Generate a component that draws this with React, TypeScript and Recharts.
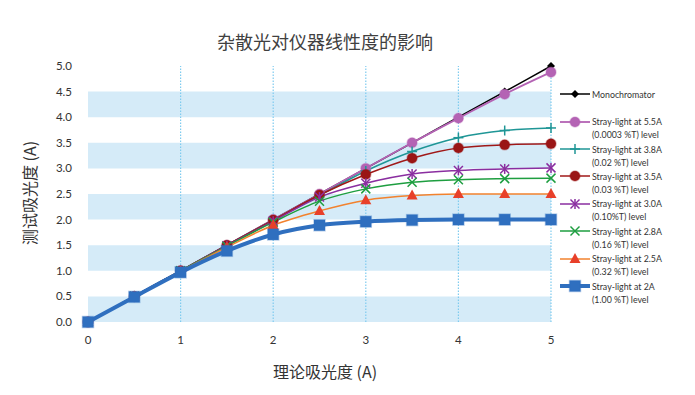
import { LineChart, Line, XAxis, YAxis, ReferenceArea, ReferenceLine } from "recharts";

const xValues = [0, 0.5, 1, 1.5, 2, 2.5, 3, 3.5, 4, 4.5, 5];
const monochromator = [0, 0.5, 1, 1.5, 2, 2.5, 3, 3.5, 4, 4.5, 5];
const stray55 = [0, 0.5, 1, 1.5, 2, 2.5, 3, 3.5, 3.98, 4.45, 4.88];
const stray38 = [0, 0.5, 1, 1.5, 1.99, 2.47, 2.95, 3.33, 3.6, 3.74, 3.79];
const stray35 = [0, 0.5, 1, 1.5, 1.99, 2.48, 2.88, 3.2, 3.4, 3.46, 3.48];
const stray30 = [0, 0.5, 1, 1.49, 1.97, 2.44, 2.71, 2.89, 2.96, 2.99, 3.01];
const stray28 = [0, 0.5, 1, 1.48, 1.95, 2.36, 2.6, 2.73, 2.78, 2.8, 2.81];
const stray25 = [0, 0.5, 0.99, 1.46, 1.89, 2.17, 2.38, 2.47, 2.5, 2.5, 2.5];
const stray20 = [0, 0.49, 0.97, 1.39, 1.71, 1.89, 1.96, 1.99, 2.0, 2.0, 2.0];

const xTicks = [0, 1, 2, 3, 4, 5];
const yTicks = [0, 0.5, 1, 1.5, 2, 2.5, 3, 3.5, 4, 4.5, 5];
const gridX = [1, 2, 3, 4, 5];
const bands = [
  [0, 0.5],
  [1, 1.5],
  [2, 2.5],
  [3, 3.5],
  [4, 4.5],
];

type Shape = "diamond" | "circle" | "plus" | "star" | "cross" | "triangle" | "square";

const series = [
  { key: "mono", values: monochromator, name: "Monochromator", sub: "", color: "#000000", marker: "#000000", shape: "diamond" as Shape, width: 1.5 },
  { key: "s55", values: stray55, name: "Stray-light at 5.5A", sub: "(0.0003 %T) level", color: "#b463b4", marker: "#b463b4", shape: "circle" as Shape, width: 1.8 },
  { key: "s38", values: stray38, name: "Stray-light at 3.8A", sub: "(0.02 %T) level", color: "#1f9696", marker: "#1f9696", shape: "plus" as Shape, width: 1.5 },
  { key: "s35", values: stray35, name: "Stray-light at 3.5A", sub: "(0.03 %T) level", color: "#a01818", marker: "#9a1515", shape: "circle" as Shape, width: 1.5 },
  { key: "s30", values: stray30, name: "Stray-light at 3.0A", sub: "(0.10%T) level", color: "#8a2ea0", marker: "#8a2ea0", shape: "star" as Shape, width: 1.5 },
  { key: "s28", values: stray28, name: "Stray-light at 2.8A", sub: "(0.16 %T) level", color: "#1e9e40", marker: "#1e9e40", shape: "cross" as Shape, width: 1.5 },
  { key: "s25", values: stray25, name: "Stray-light at 2.5A", sub: "(0.32 %T) level", color: "#f2822e", marker: "#e8402a", shape: "triangle" as Shape, width: 1.5 },
  { key: "s20", values: stray20, name: "Stray-light at 2A", sub: "(1.00 %T) level", color: "#2f6fbf", marker: "#2f6fbf", shape: "square" as Shape, width: 4 },
];

const data = xValues.map((x, i) => {
  const row: Record<string, number> = { x };
  series.forEach((s) => {
    row[s.key] = s.values[i];
  });
  return row;
});

function drawShape(shape: Shape, cx: number, cy: number, color: string) {
  switch (shape) {
    case "diamond":
      return <polygon points={`${cx},${cy - 4} ${cx + 4},${cy} ${cx},${cy + 4} ${cx - 4},${cy}`} fill={color} />;
    case "circle":
      return <circle cx={cx} cy={cy} r={5} fill={color} stroke={color} strokeOpacity={0.35} strokeWidth={1.5} />;
    case "plus":
      return (
        <g stroke={color} strokeWidth={1.5}>
          <line x1={cx - 5} y1={cy} x2={cx + 5} y2={cy} />
          <line x1={cx} y1={cy - 5} x2={cx} y2={cy + 5} />
        </g>
      );
    case "star":
      return (
        <g stroke={color} strokeWidth={1.5}>
          <line x1={cx - 4.5} y1={cy - 4.5} x2={cx + 4.5} y2={cy + 4.5} />
          <line x1={cx - 4.5} y1={cy + 4.5} x2={cx + 4.5} y2={cy - 4.5} />
          <line x1={cx} y1={cy - 5} x2={cx} y2={cy + 5} />
        </g>
      );
    case "cross":
      return (
        <g stroke={color} strokeWidth={1.5}>
          <line x1={cx - 4.5} y1={cy - 4.5} x2={cx + 4.5} y2={cy + 4.5} />
          <line x1={cx - 4.5} y1={cy + 4.5} x2={cx + 4.5} y2={cy - 4.5} />
        </g>
      );
    case "triangle":
      return <polygon points={`${cx},${cy - 6} ${cx + 5.5},${cy + 4} ${cx - 5.5},${cy + 4}`} fill={color} />;
    case "square":
      return <rect x={cx - 5.5} y={cy - 5.5} width={11} height={11} fill={color} stroke={color} strokeOpacity={0.35} strokeWidth={1.5} />;
  }
}

function makeDot(shape: Shape, color: string) {
  return (props: any) => {
    const { cx, cy, index } = props;
    if (cx == null || cy == null) return <g key={index} />;
    return <g key={index}>{drawShape(shape, cx, cy, color)}</g>;
  };
}

const font = "Lato, 'Noto Sans', sans-serif";
const cjk = "'Noto Sans CJK SC', sans-serif";

function LegendBox() {
  return (
    <div
      style={{
        position: "absolute",
        left: 560,
        top: 87.5,
        width: 135,
        fontFamily: font,
        fontSize: 8.8,
        color: "#333",
        lineHeight: "13px",
      }}
    >
      {series.map((s, i) => (
        <div key={s.key} style={{ marginBottom: i === 0 ? 14.7 : 1.4, height: s.sub ? 26 : 13 }}>
          <div style={{ display: "flex", alignItems: "center", height: 13 }}>
            <svg width={30} height={14} style={{ marginRight: 2 }}>
              <line x1={0} y1={7} x2={30} y2={7} stroke={s.color} strokeWidth={s.width} />
              {drawShape(s.shape, 15, 7, s.marker)}
            </svg>
            <span>{s.name}</span>
          </div>
          {s.sub ? <div style={{ paddingLeft: 32 }}>{s.sub}</div> : null}
        </div>
      ))}
    </div>
  );
}

export default function App() {
  return (
    <div style={{ position: "absolute", left: 0, top: 0, width: 695, height: 395, background: "#fff" }}>
      <div
        style={{
          position: "absolute",
          left: 0,
          width: 650,
          top: 28,
          textAlign: "center",
          fontFamily: cjk,
          fontSize: 18,
          color: "#404040",
        }}
      >
        杂散光对仪器线性度的影响
      </div>
      <div
        style={{
          position: "absolute",
          left: 29 - 70,
          top: 192 - 11,
          width: 140,
          textAlign: "center",
          transform: "rotate(-90deg)",
          fontFamily: cjk,
          fontSize: 16,
          color: "#333",
        }}
      >
        测试吸光度 (A)
      </div>
      <div
        style={{
          position: "absolute",
          left: 245,
          width: 160,
          top: 359,
          textAlign: "center",
          fontFamily: cjk,
          fontSize: 16,
          color: "#333",
        }}
      >
        理论吸光度 (A)
      </div>
      <LineChart
        width={695}
        height={395}
        data={data}
        margin={{ top: 66, right: 144, bottom: 43, left: 48 }}
        style={{ position: "absolute", left: 0, top: 0 }}
      >
        {bands.map(([y1, y2]) => (
          <ReferenceArea key={y1} y1={y1} y2={y2} fill="#d5ebf8" fillOpacity={1} stroke="none" ifOverflow="visible" />
        ))}
        {gridX.map((x) => (
          <ReferenceLine key={x} x={x} stroke="#7fcbef" strokeWidth={1.2} strokeDasharray="1.5 1.5" />
        ))}
        <XAxis
          dataKey="x"
          type="number"
          domain={[0, 5]}
          ticks={xTicks}
          height={30}
          axisLine={false}
          tickLine={false}
          tickSize={0}
          tickMargin={14}
          tick={{ fontSize: 11.5, fill: "#333", fontFamily: font }}
        />
        <YAxis
          type="number"
          domain={[0, 5]}
          ticks={yTicks}
          width={40}
          axisLine={false}
          tickLine={false}
          tickSize={0}
          tickMargin={16}
          tickFormatter={(v: number) => v.toFixed(1)}
          tick={{ fontSize: 11.5, fill: "#333", fontFamily: font }}
        />
        {series.map((s) => (
          <Line
            key={s.key}
            type="monotone"
            dataKey={s.key}
            name={s.name}
            stroke={s.color}
            strokeWidth={s.width}
            dot={makeDot(s.shape, s.marker)}
            activeDot={false}
            isAnimationActive={false}
          />
        ))}
      </LineChart>
      <LegendBox />
    </div>
  );
}
